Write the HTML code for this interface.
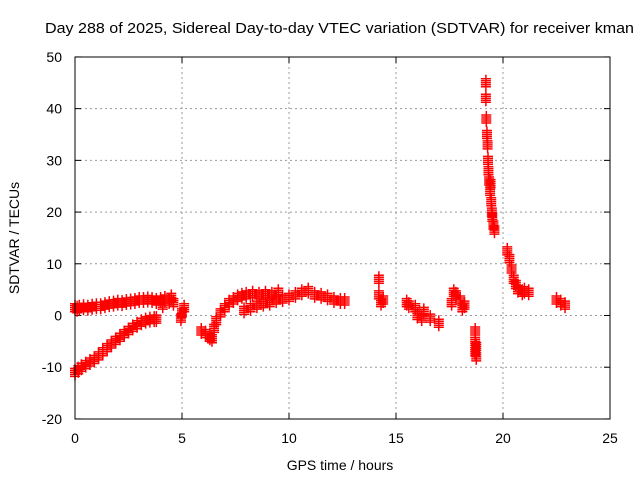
<!DOCTYPE html>
<html><head><meta charset="utf-8"><style>
body{margin:0;background:#fff;font-family:"Liberation Sans",sans-serif}
</style></head><body>
<svg id="chart" width="640" height="480" viewBox="0 0 640 480" font-family="Liberation Sans, sans-serif" font-size="14">
<rect width="640" height="480" fill="#fff"/>
<text x="45" y="33" textLength="589" lengthAdjust="spacingAndGlyphs" font-size="15">Day 288 of 2025, Sidereal Day-to-day VTEC variation (SDTVAR) for receiver kman</text>
<g id="grid"></g>
<g id="ticks"></g>
<g id="marks"></g>
<rect x="75" y="57" width="535" height="362" fill="none" stroke="#000" stroke-width="1"/>
<text x="340" y="470" text-anchor="middle">GPS time / hours</text>
<text transform="translate(19,238) rotate(-90)" text-anchor="middle">SDTVAR / TECUs</text>
</svg>
<script>
const xTicks=[0,5,10,15,20,25];
const yTicks=[-20,-10,0,10,20,30,40,50];
const times=[0,0.1,0.2,0.4,0.6,0.8,1.0,1.2,1.4,1.6,1.8,2.0,2.2,2.4,2.6,2.8,3.0,3.2,3.4,3.6,3.8,
0,0.15,0.3,0.5,0.7,0.9,1.1,1.3,1.5,1.7,1.9,2.1,2.3,2.5,2.7,2.9,3.1,3.3,3.5,3.7,3.8,
4.0,4.2,4.4,4.6,4.1,4.5,5.0,5.1,4.95,
5.9,6.1,6.3,6.4,6.5,6.6,6.8,7.0,7.2,7.4,7.6,7.8,8.0,8.3,8.6,8.9,9.2,9.5,
7.9,8.2,8.5,8.8,9.1,9.4,9.7,10.0,10.3,10.6,10.9,11.2,11.5,11.8,12.1,12.4,12.6,
14.2,14.2,14.3,14.4,15.5,15.6,15.9,16.0,16.2,16.3,16.6,17.0,17.6,17.8,18.0,18.2,17.7,18.1,
18.7,18.7,18.7,18.75,18.75,
19.2,19.2,19.22,19.25,19.28,19.3,19.32,19.35,19.4,19.42,19.45,19.48,19.5,19.55,19.6,
20.2,20.3,20.4,20.5,20.6,20.7,20.9,21.0,21.2,22.5,22.7,22.9];
const values=[1.5,1.3,1.5,1.6,1.5,1.7,1.8,1.8,2.0,2.2,2.3,2.5,2.4,2.6,2.7,2.8,3.0,3.0,3.1,3.0,2.8,
-11,-10.5,-10,-9.5,-9.0,-8.5,-7.8,-7.0,-6.2,-5.5,-4.8,-4.2,-3.5,-2.9,-2.3,-1.8,-1.3,-1.0,-0.8,-0.7,-0.7,
3.0,3.2,2.8,2.5,2.0,3.5,0.5,1.5,-0.5,
-3,-3.5,-4.2,-4.5,-2.5,-1.0,0.5,1.5,2.5,3.0,3.5,3.8,4.0,4.2,4.0,4.2,4.0,4.5,
1.0,1.5,2.0,2.3,2.5,3.0,3.2,3.5,4.0,4.5,4.8,4.0,3.8,3.5,3.0,2.8,2.8,
7.0,4.0,2.5,3.0,2.5,2.0,1.5,0,-0.5,0.8,-0.5,-1.5,2.5,4.0,3.0,2.0,4.5,1.5,
-3,-5,-7,-8,-6,
45,42,38,35,33,30,28,26,24,25.5,22,20,19,17.5,16.5,
12.5,11,9,7,6,5,4.5,4.8,4.5,3.0,2.5,2.0];
const X=t=>75+t*535/25, Y=v=>315.5-v*362/70;
const ns="http://www.w3.org/2000/svg";
const grid=document.getElementById('grid'), ticks=document.getElementById('ticks'), marks=document.getElementById('marks');
function mk(tag,attrs,parent){const e=document.createElementNS(ns,tag);for(const k in attrs)e.setAttribute(k,attrs[k]);parent.appendChild(e);return e;}
xTicks.forEach(t=>{
 if(t>0&&t<25){const g=mk('line',{x1:X(t),x2:X(t),y1:57,y2:419,stroke:'#999','stroke-dasharray':'2,3'},grid);
 
 }
 mk('line',{x1:X(t),x2:X(t),y1:419,y2:413,stroke:'#000'},ticks);
 mk('line',{x1:X(t),x2:X(t),y1:57,y2:63,stroke:'#000'},ticks);
 const l=mk('text',{x:X(t),y:443,'text-anchor':'middle'},ticks);l.textContent=t;
 
 
});
yTicks.forEach(v=>{
 if(v>-20&&v<50){const g=mk('line',{x1:75,x2:610,y1:Y(v),y2:Y(v),stroke:'#999','stroke-dasharray':'2,3'},grid);
 
 }
 mk('line',{x1:75,x2:81,y1:Y(v),y2:Y(v),stroke:'#000'},ticks);
 mk('line',{x1:604,x2:610,y1:Y(v),y2:Y(v),stroke:'#000'},ticks);
 const l=mk('text',{x:62,y:Y(v)+5,'text-anchor':'end'},ticks);l.textContent=v;
 
 
});
times.forEach((t,i)=>{
 const x=X(t),y=Y(values[i]);
 let d='';
 [-4,-2,0,2,4].forEach(o=>{d+=`M${x-5} ${y+o}h10M${x} ${y+o-4}v8`;});
 const p=mk('path',{d:d,stroke:'#f00','stroke-width':1.5,fill:'none'},marks);
 
 
});
</script>
</body></html>
